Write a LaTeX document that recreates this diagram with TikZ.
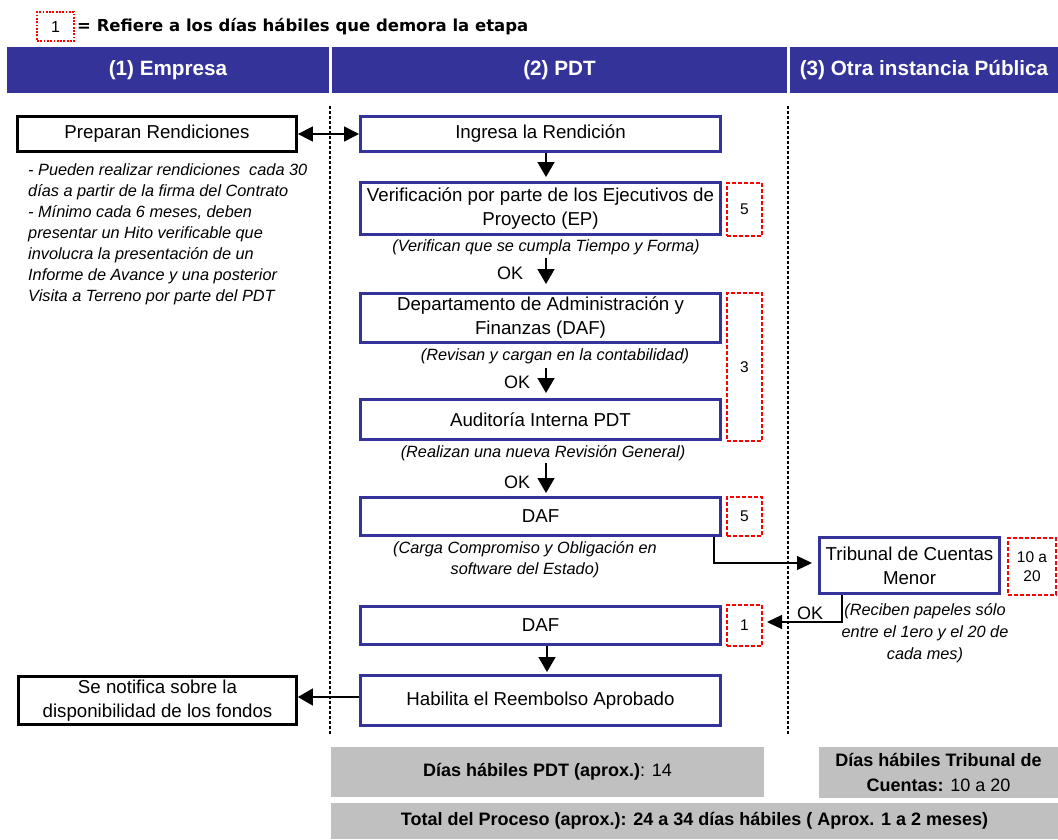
\documentclass[tikz,border=0pt]{standalone}
\usepackage{fontspec}
\setmainfont{Liberation Sans}
\newfontfamily\legfont{DejaVu Sans}
\usetikzlibrary{arrows.meta}
\definecolor{hdrblue}{HTML}{333399}
\definecolor{daysred}{HTML}{FF0000}
\definecolor{sumgrey}{HTML}{C0C0C0}
\tikzset{
  hdr/.style={fill=hdrblue, text=white, font=\fontsize{20.7}{24}\selectfont\bfseries, minimum height=46pt, inner sep=0pt},
  pbox/.style={draw=hdrblue, line width=3pt, minimum width=360pt, align=center, inner sep=0pt, font=\fontsize{18.7}{24}\selectfont, fill=white},
  ebox/.style={draw=black, line width=2.8pt, align=center, inner sep=0pt, font=\fontsize{18.7}{24}\selectfont, fill=white},
  daysbox/.style={draw=daysred, line width=2pt, dash pattern=on 4pt off 2pt, align=center, inner sep=0pt, font=\fontsize{15.5}{19}\selectfont},
  note/.style={font=\fontsize{16.3}{21}\selectfont\itshape, align=center, inner sep=0pt},
  oklabel/.style={font=\fontsize{18}{20}\selectfont, inner sep=0pt},
  sumbox/.style={fill=sumgrey, align=center, inner sep=0pt, font=\fontsize{18}{25}\selectfont},
  flow/.style={line width=1.5pt, -{Triangle[width=17pt,length=15pt]}},
  flowthin/.style={line width=1.2pt, -{Triangle[width=14pt,length=15pt]}},
  both/.style={line width=1.5pt, {Triangle[width=15pt,length=15pt]}-{Triangle[width=15pt,length=15pt]}},
  lane/.style={line width=2.5pt, dash pattern=on 2.5pt off 2.5pt},
}
\begin{document}
\begin{tikzpicture}[x=1pt,y=-1pt]
\fill[white] (0,0) rectangle (1058,839);
\useasboundingbox (0,0) rectangle (1058,839);

% legend
\node[daysbox, line width=1.8pt, dash pattern=on 1.8pt off 1.5pt, minimum width=37pt, minimum height=29pt, font=\fontsize{16}{19}\selectfont] (leg) at (55.5,26.5) {1};
\node[anchor=west, inner sep=0pt, font=\legfont\bfseries\fontsize{16.5}{20}\selectfont] (legtxt) at (77,27) {= Refiere a los días hábiles que demora la etapa};

% headers
\node[hdr, minimum width=322pt] (h1) at (168,70) {(1) Empresa};
\node[hdr, minimum width=455pt] (h2) at (559.5,70) {(2) PDT};
\node[hdr, minimum width=268pt] (h3) at (924,70) {(3) Otra instancia Pública};

% lanes
\draw[lane] (330,106) -- (330,735);
\draw[lane] (788,106) -- (788,735);

% company column
\node[ebox, minimum width=279pt, minimum height=35pt] (prep) at (157,134) {Preparan Rendiciones};
\node[note, align=left, anchor=west] (lnote) at (28,234.5) {- Pueden realizar rendiciones\ \ cada 30\\días a partir de la firma del Contrato\\- Mínimo cada 6 meses, deben\\presentar un Hito verificable que\\involucra la presentación de un\\Informe de Avance y una posterior\\Visita a Terreno por parte del PDT};
\node[ebox, minimum width=278pt, minimum height=48pt] (notif) at (157.5,700.5) {Se notifica sobre la\\disponibilidad de los fondos};

% PDT column
\node[pbox, minimum height=35pt] (ingresa) at (540.5,134) {Ingresa la Rendición};
\node[pbox, minimum height=52pt] (verif) at (540.5,208.5) {Verificación por parte de los Ejecutivos de\\Proyecto (EP)};
\node[pbox, minimum height=49pt] (depto) at (540.5,318) {Departamento de Administración y\\Finanzas (DAF)};
\node[pbox, minimum height=40pt] (audit) at (540.5,419.5) {Auditoría Interna PDT};
\node[pbox, minimum height=38pt] (daf1) at (540.5,516.5) {DAF};
\node[pbox, minimum height=38pt] (daf2) at (540.5,625.5) {DAF};
\node[pbox, minimum height=50pt] (habil) at (540.5,700.5) {Habilita el Reembolso Aprobado};

% day boxes
\node[daysbox, minimum width=35pt, minimum height=53pt] (d1) at (744.5,209.5) {5};
\node[daysbox, minimum width=35pt, minimum height=148pt] (d2) at (744.5,367) {3};
\node[daysbox, minimum width=35pt, minimum height=39pt] (d3) at (744.5,516.5) {5};
\node[daysbox, minimum width=35pt, minimum height=41pt] (d4) at (744.5,625.5) {1};
\node[daysbox, minimum width=48pt, minimum height=57pt] (d5) at (1032,566.5) {10 a\\20};

% other public body
\node[pbox, minimum width=180pt, minimum height=56pt] (trib) at (909.5,565.5) {Tribunal de Cuentas\\Menor};

% notes
\node[note] (n1) at (546,247) {(Verifican que se cumpla Tiempo y Forma)};
\node[note] (n2) at (555,356) {(Revisan y cargan en la contabilidad)};
\node[note] (n3) at (543,453) {(Realizan una nueva Revisión General)};
\node[note] (n4) at (525,559.5) {(Carga Compromiso y Obligación en\\software del Estado)};
\node[note, font=\fontsize{16.3}{22}\selectfont\itshape] (n5) at (925,633) {(Reciben papeles sólo\\entre el 1ero y el 20 de\\cada mes)};

% OK labels
\node[oklabel] (ok1) at (510,273) {OK};
\node[oklabel] (ok2) at (517,382) {OK};
\node[oklabel] (ok3) at (517,482) {OK};
\node[oklabel] (ok4) at (810,613) {OK};

% connectors
\coordinate (ax) at (546,0);
\coordinate (bx) at (714,0);
\coordinate (cx) at (842,0);
\coordinate (dx) at (547,0);
\draw[both] (prep.east) -- (ingresa.west);
\draw[flow, shorten >=4pt] (ingresa.south -| ax) -- (verif.north -| ax);
\draw[flow, shorten <=3pt, shorten >=8pt] (n1.south -| ax) -- (depto.north -| ax);
\draw[flow, shorten <=4pt, shorten >=5pt] (n2.south -| ax) -- (audit.north -| ax);
\draw[flow, shorten <=2pt, shorten >=3pt] (n3.south -| ax) -- (daf1.north -| ax);
\draw[flowthin, shorten >=6pt] (daf1.south -| bx) |- ([yshift=2.5pt]trib.west);
\draw[flowthin, shorten >=4pt] (trib.south -| cx) |- ([yshift=3.5pt]d4.east);
\draw[flow, shorten >=2pt] (daf2.south -| dx) -- (habil.north -| dx);
\draw[flow] ([yshift=3.5pt]habil.west) -- ([yshift=3.5pt]notif.east);

% summaries
\node[sumbox, minimum width=433pt, minimum height=50pt] (g1) at (547.5,772) {\textbf{Días hábiles PDT (aprox.)}: 14};
\node[sumbox, minimum width=239pt, minimum height=51pt] (g2) at (938.5,772.5) {\textbf{Días hábiles Tribunal de}\\\textbf{Cuentas:} 10 a 20};
\node[sumbox, minimum width=727pt, minimum height=36pt] (g3) at (694.5,821) {\textbf{Total del Proceso (aprox.): 24 a 34 días hábiles ( Aprox. 1 a 2 meses)}};
\end{tikzpicture}
\end{document}
